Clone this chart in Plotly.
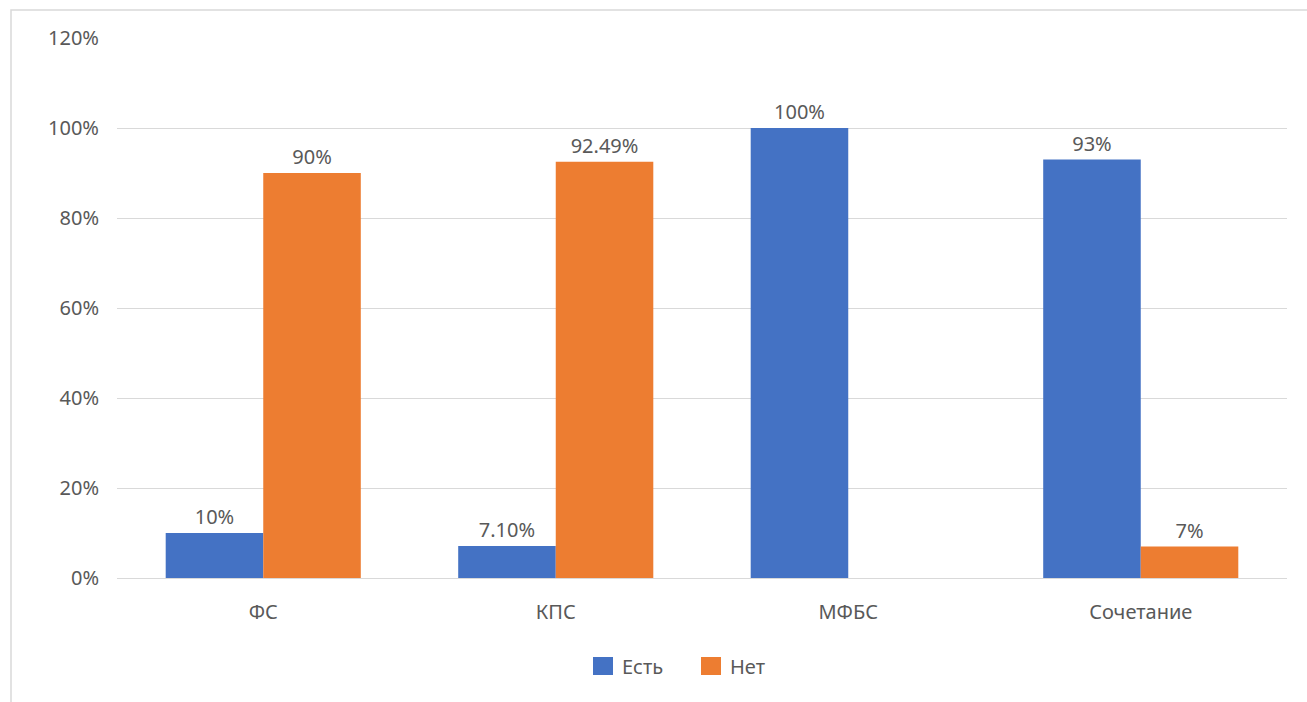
import plotly.graph_objects as go

# Categories and shares (fractions of 1)
categories = ["ФС", "КПС", "МФБС", "Сочетание"]
est_values = [0.10, 0.071, 1.00, 0.93]
net_values = [0.90, 0.9249, 0.0, 0.07]
est_labels = ["10%", "7.10%", "100%", "93%"]
net_labels = ["90%", "92.49%", "", "7%"]
y_ticks = [0, 0.2, 0.4, 0.6, 0.8, 1.0, 1.2]
series_names = ["Есть", "Нет"]
series_colors = ["#4472C4", "#ED7D31"]

W, H = 1307, 702
ML, MR, MT, MB = 117, 20, 38, 124
PW, PH = W - ML - MR, H - MT - MB

TEXT = "#595959"
FONT = "Noto Sans"
FS = 20

fig = go.Figure()
for name, vals, labels, color in zip(series_names, [est_values, net_values],
                                      [est_labels, net_labels], series_colors):
    fig.add_trace(go.Bar(
        name=name, x=categories, y=vals, text=labels,
        marker=dict(color=color, line=dict(width=0)),
        textposition="outside", textfont=dict(color=TEXT, size=FS, family=FONT),
        cliponaxis=False, showlegend=False,
    ))


def px_x(p):
    return (p - ML) / PW


def px_y(p):
    return (H - MB - p) / PH


# Light frame around the chart area
fig.add_shape(type="rect", xref="paper", yref="paper",
              x0=px_x(11), x1=px_x(1320), y0=px_y(715), y1=px_y(10),
              line=dict(color="#d9d9d9", width=1.5), fillcolor="rgba(0,0,0,0)",
              layer="below")

# Legend drawn as colour squares with captions below the plot
legend_items = [(593, 620), (701, 728)]
for (sq_x, txt_x), name, color in zip(legend_items, series_names, series_colors):
    fig.add_shape(type="rect", xref="paper", yref="paper",
                  x0=px_x(sq_x), x1=px_x(sq_x + 20), y0=px_y(675), y1=px_y(657),
                  line=dict(width=0), fillcolor=color)
    fig.add_annotation(xref="paper", yref="paper", x=px_x(txt_x), y=px_y(666),
                       xanchor="left", yanchor="middle", text=name, showarrow=False,
                       font=dict(size=FS, color=TEXT, family=FONT))

fig.update_layout(
    width=W, height=H,
    margin=dict(l=ML, r=MR, t=MT, b=MB),
    paper_bgcolor="white", plot_bgcolor="white",
    barmode="group", bargap=0.333, bargroupgap=0,
    font=dict(family=FONT, color=TEXT, size=FS),
    showlegend=False,
    xaxis=dict(showgrid=False, showline=False, ticks="", ticklabelstandoff=20,
               tickfont=dict(size=FS, color=TEXT)),
    yaxis=dict(range=[0, 1.2], tickvals=y_ticks, tickformat=".0%",
               showgrid=True, gridcolor="#d9d9d9", gridwidth=1,
               zeroline=True, zerolinecolor="#d9d9d9", zerolinewidth=1,
               showline=False, ticks="", ticklabelstandoff=17,
               tickfont=dict(size=FS, color=TEXT)),
)

fig.write_html("out.html")
